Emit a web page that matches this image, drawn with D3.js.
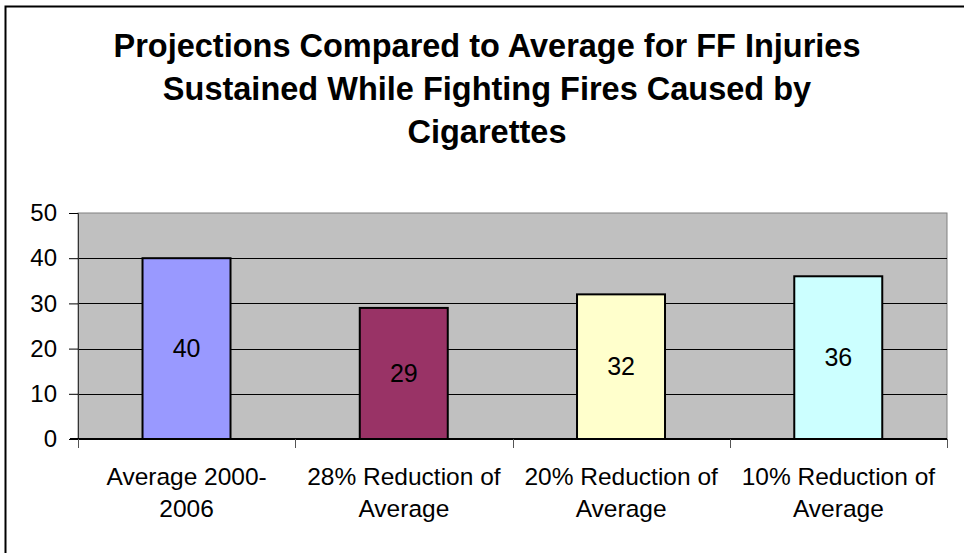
<!DOCTYPE html>
<html>
<head>
<meta charset="utf-8">
<script src="https://cdn.jsdelivr.net/npm/d3@7"></script>
<style>
  body { margin: 0; background: #fff; }
  svg { display: block; font-family: Arial, "Liberation Sans", sans-serif; }
</style>
</head>
<body>
<div id="chart"></div>
<script>
const titleLines = ["Projections Compared to Average for FF Injuries",
    "Sustained While Fighting Fires Caused by", "Cigarettes"];
const categories = [["Average 2000-", "2006"], ["28% Reduction of", "Average"],
    ["20% Reduction of", "Average"], ["10% Reduction of", "Average"]];
const values = [40, 29, 32, 36];
const barColors = ["#9999FF", "#993366", "#FFFFCC", "#CCFFFF"];
const yTicks = [0, 10, 20, 30, 40, 50];

const width = 964, height = 553;
const plot = { left: 78, right: 947, top: 213, bottom: 439 };

const svg = d3.select("#chart").append("svg")
    .attr("width", width)
    .attr("height", height);

// outer frame (runs off the right and bottom edges)
svg.append("rect")
    .attr("x", 5.5).attr("y", 6.5)
    .attr("width", 1000).attr("height", 600)
    .style("fill", "none")
    .style("stroke", "#000")
    .style("stroke-width", 2);

// title
svg.append("text")
    .attr("x", 487)
    .attr("text-anchor", "middle")
    .style("font-weight", "bold")
    .style("font-size", "32.5px")
    .selectAll("tspan")
    .data(titleLines)
    .enter()
    .append("tspan")
    .attr("x", 487)
    .attr("y", (d, i) => 57 + i * 43)
    .text(d => d);

const x = d3.scaleBand()
    .domain(d3.range(values.length))
    .range([plot.left, plot.right]);

const y = d3.scaleLinear()
    .domain([0, 50])
    .range([plot.bottom, plot.top]);

// plot area
svg.append("rect")
    .attr("x", plot.left).attr("y", plot.top)
    .attr("width", plot.right - plot.left)
    .attr("height", plot.bottom - plot.top)
    .style("fill", "#C0C0C0")
    .style("stroke", "#808080")
    .style("stroke-width", 1);

// gridlines
svg.selectAll(".grid")
    .data(yTicks.slice(1, -1))
    .enter()
    .append("line")
    .attr("x1", plot.left).attr("x2", plot.right)
    .attr("y1", d => Math.round(y(d)) + 0.5)
    .attr("y2", d => Math.round(y(d)) + 0.5)
    .style("stroke", "#000")
    .style("stroke-width", 1);

// y axis
const yAxis = svg.append("g")
    .attr("transform", `translate(${plot.left},0)`)
    .call(d3.axisLeft(y).tickValues(yTicks).tickSize(9).tickPadding(12));
yAxis.select(".domain").style("stroke", "#333");
yAxis.selectAll("text").style("font-size", "24px").style("fill", "#000")
    .attr("font-family", null);

// bars
svg.selectAll(".bar")
    .data(values)
    .enter()
    .append("rect")
    .attr("class", "bar")
    .attr("x", (d, i) => x(i) + x.bandwidth() * 0.297)
    .attr("width", x.bandwidth() * 0.405)
    .attr("y", d => y(d))
    .attr("height", d => y(0) - y(d))
    .style("fill", (d, i) => barColors[i])
    .style("stroke", "#000")
    .style("stroke-width", 2);

// value labels
svg.selectAll(".value")
    .data(values)
    .enter()
    .append("text")
    .attr("x", (d, i) => x(i) + x.bandwidth() / 2)
    .attr("y", d => (y(d) + y(0)) / 2)
    .attr("dy", "0.35em")
    .attr("text-anchor", "middle")
    .style("font-size", "25px")
    .text(d => d);

// x axis
const xAxis = svg.append("g")
    .attr("transform", `translate(0,${plot.bottom})`);
xAxis.append("line")
    .attr("x1", plot.left - 8).attr("x2", plot.right)
    .style("stroke", "#000")
    .style("stroke-width", 2);
xAxis.selectAll(".xtick")
    .data(d3.range(values.length + 1))
    .enter()
    .append("line")
    .attr("x1", d => Math.round(plot.left + d * x.step()) + 0.5)
    .attr("x2", d => Math.round(plot.left + d * x.step()) + 0.5)
    .attr("y1", 0).attr("y2", 9)
    .style("stroke", "#555");

xAxis.selectAll(".xlabel")
    .data(categories)
    .enter()
    .append("text")
    .attr("text-anchor", "middle")
    .style("font-size", "24.5px")
    .each(function(d, i) {
        d3.select(this).selectAll("tspan")
            .data(d)
            .enter()
            .append("tspan")
            .attr("x", x(i) + x.bandwidth() / 2)
            .attr("y", (t, j) => 46 + j * 32)
            .text(t => t);
    });
</script>
</body>
</html>
